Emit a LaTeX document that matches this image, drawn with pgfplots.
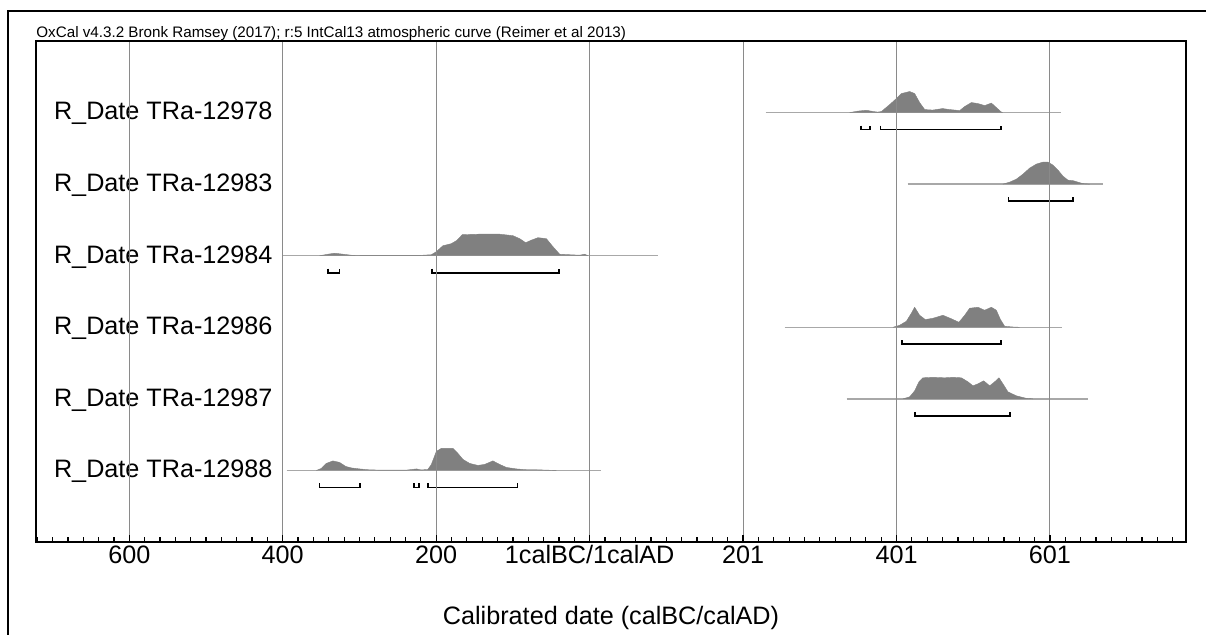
\documentclass[border=0pt]{standalone}
\usepackage{fontspec}
\setmainfont{Liberation Sans}
\usepackage{pgfplots}
\pgfplotsset{compat=1.18}
\usepackage{pgfplotstable}

\definecolor{dens}{HTML}{808080}
\definecolor{gridc}{HTML}{8A8A8A}
\definecolor{basec}{HTML}{A8A8A8}

% t = year on a continuous scale (0 = 1calBC/1calAD), h = height in px
\pgfplotstableread{
t h
338.9 0
350 1.5
360.6 2.3
370 1
375.4 0.5
380.2 1
391.1 8
399.8 14
406.3 19
417.1 21
423.6 19
430.1 10
436.7 3
447.1 2.5
460.1 4
469.2 3
482.3 2
488.8 6
497.5 10
506.1 9
514.9 7
523.6 9.5
530.1 5
536.6 0.5
538.3 0
}\dA
\pgfplotstableread{
t h
538.7 0
547.4 2
556.2 5
564.8 10
573.5 16
582.2 20
590.8 22
597.4 22
603.9 19
610.4 14
616.9 8
623.4 4
629.9 3.5
636.5 2
643.0 0.5
651.7 0
}\dB
\pgfplotstableread{
t h
-351.9 0
-341.1 1.5
-332.4 2.5
-321.5 1.5
-310.6 0.5
-286.7 0.3
-221.6 0.3
-206.3 1
-199.8 4
-191.2 10
-180.3 12
-173.7 15
-165.9 21
-143.4 21.5
-117.3 21.5
-100.0 20
-91.2 17
-83.4 13
-76.0 15.5
-67.3 18
-56.4 17
-47.8 9
-39.1 1.5
-26.1 1
-13.0 0.5
-6.5 1.5
-2.2 0
}\dC
\pgfplotstableread{
t h
395.3 0
404.0 2
412.8 6
419.3 14
423.6 20
430.1 12
437.5 7.7
447.5 9
460.5 12
471.4 8.5
481.3 5
488.8 12
495.3 19
506.1 20
514.8 17
523.6 20
530.1 17
535.3 8
540.9 1
551.7 0.3
560.5 0
}\dD
\pgfplotstableread{
t h
408.4 0
417.1 2
423.6 8
429.2 17
434.4 21
447.5 21.5
462.7 21
473.5 21.5
484.5 21
493.1 17
499.6 13
506.1 15
513.6 18
521.4 13
527.9 17
533.5 21
538.7 15
545.2 7
556.2 3
569.2 0.5
577.8 0
}\dE
\pgfplotstableread{
t h
-356.1 0
-349.7 2
-343.2 7
-334.6 9.5
-325.9 8
-318.0 4
-310.6 2.5
-299.8 1.5
-289.0 0.7
-273.7 0.3
-238.9 0.3
-225.9 1.5
-219.4 0.5
-210.8 1
-206.3 6
-199.8 19
-193.3 22
-178.2 22
-171.7 17
-165.1 11
-156.4 7
-145.6 5
-136.9 6
-126.1 9.5
-117.3 6
-108.6 3
-95.5 1.5
-82.5 0.7
-69.5 0.7
-56.4 0.3
-43.4 0
}\dF

\newcommand{\lblfont}{\fontsize{12.6}{14}\selectfont}

\begin{document}
\begin{tikzpicture}
\useasboundingbox (0,0) rectangle (603pt,317.5pt);
\draw[line width=1pt] (4pt,0pt) -- (4pt,312pt) -- (603pt,312pt);
\node[anchor=base west, inner sep=0pt, font=\fontsize{7.6}{8}\selectfont] at (18pt,298.9pt)
  {OxCal v4.3.2 Bronk Ramsey (2017); r:5 IntCal13 atmospheric curve (Reimer et al 2013)};
\begin{axis}[
    at={(18pt,46.5pt)}, anchor=south west,
    scale only axis, width=575pt, height=250.5pt,
    xmin=-721.6, xmax=777.3, ymin=0, ymax=7,
    axis line style={line width=0.8pt},
    xtick={-600,-400,...,600},
    xticklabels={600,400,200,1calBC/1calAD,201,401,601},
    minor xtick={-720,-700,...,760},
    xtick pos=bottom, ytick=\empty,
    tick align=inside,
    major tick length=3.5pt, minor tick length=2.5pt,
    tick style={black, line width=0.6pt},
    xmajorgrids,
    major grid style={gridc, line width=0.5pt},
    xticklabel style={font=\lblfont, anchor=base, yshift=-11pt},
    xlabel={Calibrated date (calBC/calAD)},
    xlabel style={font=\lblfont, at={(axis description cs:0.5,0)}, anchor=base, yshift=-41.5pt},
    axis on top,
    dens/.style={fill=dens, draw=dens, line width=0.2pt, mark=none},
    base/.style={basec, line width=0.7pt, mark=none},
    brk/.style={black, line width=0.9pt, mark=none},
  ]
% baselines
\addplot[base] coordinates {(229.5,6) (614.8,6)};
\addplot[base] coordinates {(414.5,5) (668.6,5)};
\addplot[base] coordinates {(-399.6,4) (88.6,4)};
\addplot[base] coordinates {(254,3) (615,3)};
\addplot[base] coordinates {(335,2) (649,2)};
\addplot[base] coordinates {(-395,1) (14.3,1)};
% distributions
\addplot[dens] table[x=t, y expr=6+0.014*\thisrow{h}] {\dA};
\addplot[dens] table[x=t, y expr=5+0.014*\thisrow{h}] {\dB};
\addplot[dens] table[x=t, y expr=4+0.014*\thisrow{h}] {\dC};
\addplot[dens] table[x=t, y expr=3+0.014*\thisrow{h}] {\dD};
\addplot[dens] table[x=t, y expr=2+0.014*\thisrow{h}] {\dE};
\addplot[dens] table[x=t, y expr=1+0.014*\thisrow{h}] {\dF};
% ranges
\addplot[brk] coordinates {(354,5.818) (354,5.7625) (365,5.7625) (365,5.818)};
\addplot[brk] coordinates {(379,5.818) (379,5.7625) (536,5.7625) (536,5.818)};
\addplot[brk] coordinates {(546,4.818) (546,4.7625) (630,4.7625) (630,4.818)};
\addplot[brk] coordinates {(-341,3.818) (-341,3.7625) (-326,3.7625) (-326,3.818)};
\addplot[brk] coordinates {(-205,3.818) (-205,3.7625) (-40,3.7625) (-40,3.818)};
\addplot[brk] coordinates {(407,2.818) (407,2.7625) (536,2.7625) (536,2.818)};
\addplot[brk] coordinates {(424,1.818) (424,1.7625) (548,1.7625) (548,1.818)};
\addplot[brk] coordinates {(-352,0.818) (-352,0.7625) (-299,0.7625) (-299,0.818)};
\addplot[brk] coordinates {(-229,0.818) (-229,0.7625) (-222,0.7625) (-222,0.818)};
\addplot[brk] coordinates {(-211,0.818) (-211,0.7625) (-94,0.7625) (-94,0.818)};
% labels
\foreach \r/\n in {6/12978,5/12983,4/12984,3/12986,2/12987,1/12988}{
  \edef\tmp{\noexpand\node[anchor=base west, inner sep=0pt, font=\noexpand\lblfont, yshift=-3.7pt]
    at (axis cs:-698.6,\r) {R\noexpand\_Date TRa-\n};}
  \tmp
}
\end{axis}
\end{tikzpicture}
\end{document}
